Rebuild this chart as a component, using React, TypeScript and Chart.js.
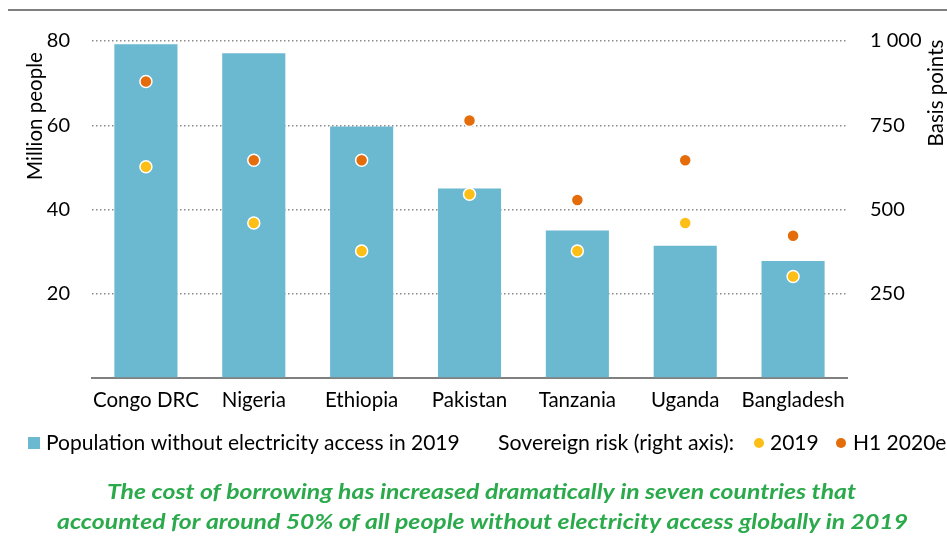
import React, { useEffect, useRef } from "react";
import { Chart, registerables } from "chart.js";

Chart.register(...registerables);

const categories = ["Congo DRC", "Nigeria", "Ethiopia", "Pakistan", "Tanzania", "Uganda", "Bangladesh"];
const populationWithoutAccess = [79.2, 77.1, 59.7, 45.0, 35.0, 31.4, 27.8];
const risk2019 = [627, 460, 377, 545, 377, 460, 301];
const riskH12020 = [880, 646, 646, 764, 528, 646, 422];
const leftTicks = [0, 20, 40, 60, 80];
const rightTicks = [0, 250, 500, 750, 1000];

const BLUE = "#6BB9D0";
const ORANGE = "#E46C0A";
const YELLOW = "#FDBF17";
const GREEN = "#2BAA4C";
const FONT = "Lato";

function fitText(ctx: CanvasRenderingContext2D, text: string, cx: number, y: number, width: number) {
  const w = ctx.measureText(text).width;
  const sx = width / w;
  ctx.save();
  ctx.translate(cx, y);
  ctx.scale(sx, 1);
  ctx.textAlign = "center";
  ctx.fillText(text, 0, 0);
  ctx.restore();
}

const overlay = {
  id: "overlay",
  afterDraw(chart: any) {
    const ctx = chart.ctx as CanvasRenderingContext2D;
    ctx.save();
    // top rule
    ctx.strokeStyle = "#7f7f7f";
    ctx.lineWidth = 2;
    ctx.beginPath();
    ctx.moveTo(8, 10);
    ctx.lineTo(947, 10);
    ctx.stroke();

    ctx.fillStyle = "#000";
    ctx.font = `20.5px ${FONT}`;
    ctx.textAlign = "center";
    ctx.textBaseline = "middle";
    // left axis title
    ctx.save();
    ctx.translate(35, 116);
    ctx.rotate(-Math.PI / 2);
    ctx.fillText("Million people", 0, 0);
    ctx.restore();
    // right axis title
    ctx.save();
    ctx.translate(936, 93);
    ctx.rotate(-Math.PI / 2);
    ctx.fillText("Basis points", 0, 0);
    ctx.restore();

    // legend
    const ly = 443;
    ctx.fillStyle = BLUE;
    ctx.fillRect(28, ly - 6, 12, 12);
    ctx.fillStyle = "#000";
    ctx.textAlign = "left";
    ctx.font = `21px ${FONT}`;
    ctx.fillText("Population without electricity access in 2019", 46, ly);
    fitTextLeft(ctx, "Sovereign risk (right axis):", 498, ly, 236);
    ctx.fillStyle = YELLOW;
    ctx.beginPath();
    ctx.arc(759, ly, 5, 0, Math.PI * 2);
    ctx.fill();
    ctx.fillStyle = "#000";
    ctx.fillText("2019", 770, ly);
    ctx.fillStyle = ORANGE;
    ctx.beginPath();
    ctx.arc(841, ly, 5, 0, Math.PI * 2);
    ctx.fill();
    ctx.fillStyle = "#000";
    ctx.fillText("H1 2020e", 853, ly);

    // caption
    ctx.fillStyle = GREEN;
    ctx.font = `italic bold 21px ${FONT}`;
    fitText(ctx, "The cost of borrowing has increased dramatically in seven countries that", 481.5, 492, 749);
    fitText(ctx, "accounted for around 50% of all people without electricity access globally in 2019", 482.5, 522, 851);
    ctx.restore();
  },
};

function fitTextLeft(ctx: CanvasRenderingContext2D, text: string, x: number, y: number, width: number) {
  const w = ctx.measureText(text).width;
  ctx.save();
  ctx.translate(x, y);
  ctx.scale(width / w, 1);
  ctx.textAlign = "left";
  ctx.fillText(text, 0, 0);
  ctx.restore();
}

export default function App() {
  const ref = useRef<HTMLCanvasElement>(null);
  useEffect(() => {
    if (!ref.current) return;
    const chart = new Chart(ref.current, {
      type: "bar",
      data: {
        labels: categories,
        datasets: [
          {
            type: "line",
            label: "H1 2020e",
            data: riskH12020,
            yAxisID: "y1",
            showLine: false,
            pointRadius: 6,
            pointBorderWidth: 1.5,
            pointBorderColor: "#ffffff",
            pointBackgroundColor: ORANGE,
            order: 0,
          } as any,
          {
            type: "line",
            label: "2019",
            data: risk2019,
            yAxisID: "y1",
            showLine: false,
            pointRadius: 6,
            pointBorderWidth: 1.5,
            pointBorderColor: "#ffffff",
            pointBackgroundColor: YELLOW,
            order: 1,
          } as any,
          {
            type: "bar",
            label: "Population without electricity access in 2019",
            data: populationWithoutAccess,
            yAxisID: "y",
            backgroundColor: BLUE,
            barPercentage: 0.585,
            categoryPercentage: 1,
            order: 2,
          },
        ],
      },
      options: {
        animation: false,
        responsive: false,
        maintainAspectRatio: false,
        layout: { padding: { top: 41, left: 0, right: 0, bottom: 0 } },
        plugins: { legend: { display: false }, tooltip: { enabled: false } },
        scales: {
          x: {
            type: "category",
            offset: true,
            grid: { display: false, drawTicks: false },
            border: { display: true, color: "#808080", width: 2 },
            ticks: { color: "#000", font: { family: FONT, size: 20.5 }, padding: 10, maxRotation: 0, autoSkip: false },
            afterFit: (s: any) => { s.height = 547 - 378; },
          },
          y: {
            position: "left",
            min: leftTicks[0],
            max: leftTicks[leftTicks.length - 1],
            afterBuildTicks: (s: any) => { s.ticks = leftTicks.map((v) => ({ value: v })); },
            grid: {
              drawTicks: false,
              lineWidth: 1.5,
              color: (c: any) => (c.tick && c.tick.value === 0 ? "rgba(0,0,0,0)" : "#8a8a8a"),
            },
            border: { display: false, dash: [1.5, 2.5] },
            ticks: {
              color: "#000",
              font: { family: FONT, size: 20 },
              padding: 22,
              callback: (v: any) => (v === 0 ? "" : String(v)),
            },
            afterFit: (s: any) => { s.width = 92; },
          },
          y1: {
            position: "right",
            min: rightTicks[0],
            max: rightTicks[rightTicks.length - 1],
            afterBuildTicks: (s: any) => { s.ticks = rightTicks.map((v) => ({ value: v })); },
            grid: { display: false, drawTicks: false },
            border: { display: false },
            ticks: {
              color: "#000",
              font: { family: FONT, size: 20 },
              padding: 23,
              callback: (v: any) => (v === 0 ? "" : v >= 1000 ? String(v).replace(/\B(?=(\d{3})+(?!\d))/g, " ") : String(v)),
            },
            afterFit: (s: any) => { s.width = 100; },
          },
        },
      },
      plugins: [overlay],
    });
    return () => chart.destroy();
  }, []);
  return (
    <div style={{ position: "fixed", left: 0, top: 0, width: 947, height: 547, background: "#fff" }}>
      <canvas ref={ref} width={947} height={547} style={{ display: "block", width: 947, height: 547 }} />
    </div>
  );
}
